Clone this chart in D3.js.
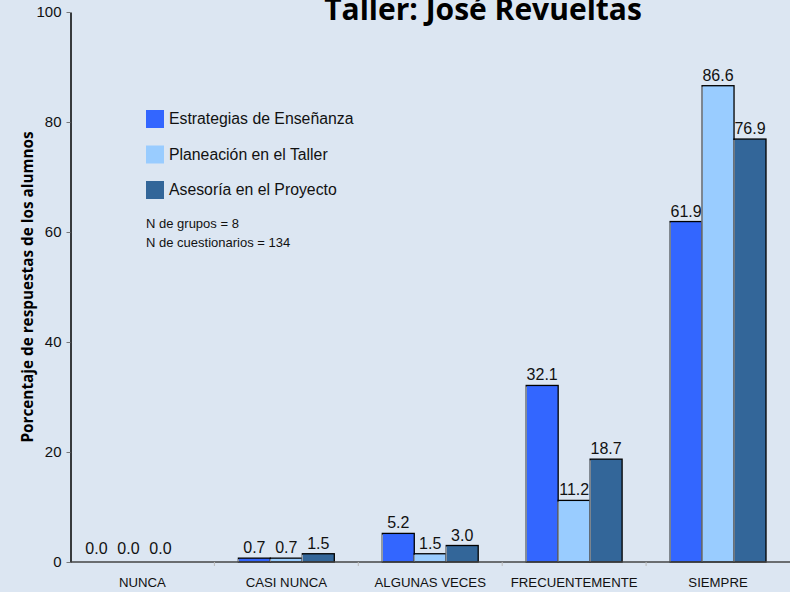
<!DOCTYPE html>
<html>
<head>
<meta charset="utf-8">
<script src="https://d3js.org/d3.v7.min.js"></script>
<style>
  body { margin: 0; background: #dce6f2; }
  svg { display: block; font-family: "Liberation Sans", Arial, sans-serif; }
</style>
</head>
<body>
<svg width="790" height="592"></svg>
<script>
var categories = ["NUNCA", "CASI NUNCA", "ALGUNAS VECES", "FRECUENTEMENTE", "SIEMPRE"];
var seriesNames = ["Estrategias de Enseñanza", "Planeación en el Taller", "Asesoría en el Proyecto"];
var estrategias = [0.0, 0.7, 5.2, 32.1, 61.9];
var planeacion = [0.0, 0.7, 1.5, 11.2, 86.6];
var asesoria = [0.0, 1.5, 3.0, 18.7, 76.9];
var yTicks = [0, 20, 40, 60, 80, 100];
var notes = ["N de grupos = 8", "N de cuestionarios = 134"];
var colors = ["#3366ff", "#99ccff", "#336699"];

var svg = d3.select("svg");
var mLeft = 70.5, mRight = 790, mTop = 12, mBottom = 562;

var x = d3.scaleBand().domain(categories).range([mLeft, mRight]); // one band per category
var xs = d3.scaleBand().domain(d3.range(3)).range([24, x.bandwidth() - 24]); // bars inside a band
var y = d3.scaleLinear().domain([0, 100]).range([mBottom, mTop]);

var series = [estrategias, planeacion, asesoria];
var data = [];
categories.forEach(function(c, i) {
  series.forEach(function(s, j) { data.push({cat: c, k: j, v: s[i]}); });
});

// title (cut off at the top like the original)
svg.append("text")
  .attr("x", 483).attr("y", 20)
  .attr("text-anchor", "middle")
  .style("font-family", "'Open Sans', sans-serif")
  .style("font-weight", "bold")
  .style("font-size", "30px")
  .text("Taller: José Revueltas");

// bars
var bars = svg.append("g").selectAll("g").data(data).enter().append("g")
  .attr("transform", function(d) { return "translate(" + (x(d.cat) + xs(d.k)) + ",0)"; });

bars.filter(function(d) { return d.v > 0; }).append("rect")
  .attr("x", 0).attr("y", function(d) { return y(d.v); })
  .attr("width", xs.bandwidth())
  .attr("height", function(d) { return mBottom - y(d.v); })
  .attr("fill", function(d) { return colors[d.k]; })
  .attr("stroke", "#000").attr("stroke-width", 1.3);

bars.filter(function(d) { return d.v > 0; }).append("line") // lighter left edge
  .attr("x1", 0).attr("x2", 0)
  .attr("y1", function(d) { return y(d.v) + 1; }).attr("y2", mBottom)
  .attr("stroke", "#9aa4b0").attr("stroke-width", 1.3);

bars.append("text")
  .attr("x", function(d) { return d.v > 0 ? xs.bandwidth() / 2 : xs.bandwidth() / 2 - 14; })
  .attr("y", function(d) { return y(d.v) - (d.v > 0 ? 5 : 8); })
  .attr("text-anchor", "middle")
  .style("font-size", "16px")
  .attr("fill", "#111")
  .text(function(d) { return d.v.toFixed(1); });

// y axis
var yAxis = svg.append("g")
  .attr("transform", "translate(" + mLeft + ",0)")
  .call(d3.axisLeft(y).tickValues(yTicks).tickSize(4).tickPadding(5).tickSizeOuter(0));
yAxis.select(".domain").attr("stroke", "#000").attr("stroke-width", 1.5);
yAxis.selectAll(".tick line").attr("stroke", "#777");
yAxis.selectAll("text").style("font-size", "15px").style("font-family", "'Liberation Sans', Arial, sans-serif").attr("fill", "#111");

// x axis
var xAxis = svg.append("g").attr("transform", "translate(0," + mBottom + ")");
xAxis.append("line").attr("x1", mLeft).attr("x2", mRight).attr("stroke", "#444").attr("stroke-width", 1.5);
xAxis.selectAll(".tk").data(categories.slice(1)).enter().append("line")
  .attr("x1", function(d) { return x(d); }).attr("x2", function(d) { return x(d); })
  .attr("y1", 0).attr("y2", 4).attr("stroke", "#bbb");
xAxis.selectAll(".lb").data(categories).enter().append("text")
  .attr("x", function(d) { return x(d) + x.bandwidth() / 2; })
  .attr("y", 25)
  .attr("text-anchor", "middle")
  .style("font-size", "13.2px")
  .attr("fill", "#111")
  .text(function(d) { return d; });

// y label
svg.append("text")
  .attr("transform", "translate(33," + ((mTop + mBottom) / 2) + ") rotate(-90)")
  .attr("text-anchor", "middle")
  .style("font-family", "'Open Sans', sans-serif")
  .style("font-weight", "bold")
  .style("font-size", "15.3px")
  .text("Porcentaje de respuestas de los alumnos");

// legend
var legend = svg.append("g").attr("transform", "translate(146,110)");
var li = legend.selectAll("g").data(seriesNames).enter().append("g")
  .attr("transform", function(d, i) { return "translate(0," + (i * 35.5) + ")"; });
li.append("rect").attr("width", 18).attr("height", 18).attr("fill", function(d, i) { return colors[i]; });
li.append("text").attr("x", 23).attr("y", 14).style("font-size", "15.8px").attr("fill", "#111")
  .text(function(d) { return d; });

legend.selectAll(".note").data(notes).enter().append("text")
  .attr("x", 0).attr("y", function(d, i) { return 118 + i * 18.5; })
  .style("font-size", "13px").attr("fill", "#111")
  .text(function(d) { return d; });
</script>
</body>
</html>
